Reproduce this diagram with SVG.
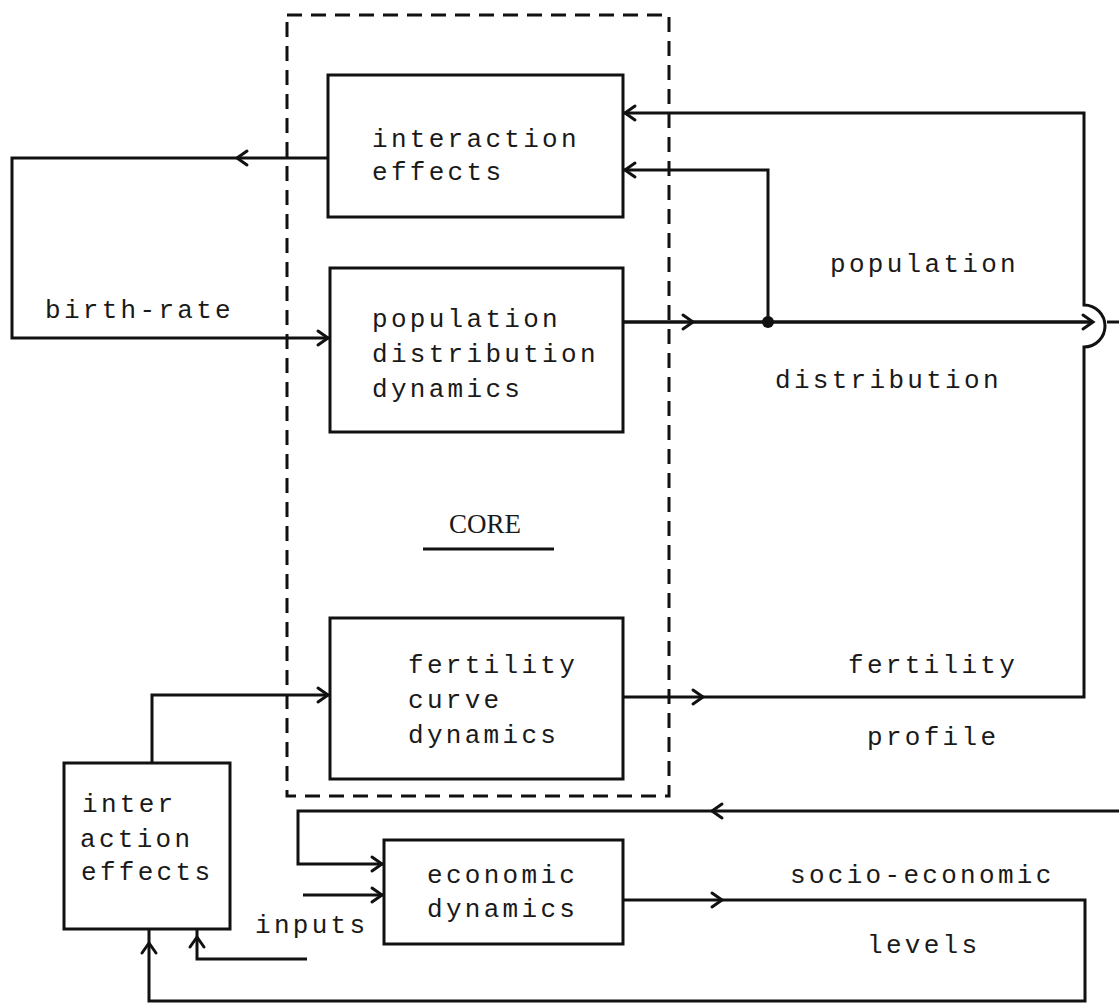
<svg xmlns="http://www.w3.org/2000/svg" width="1119" height="1003" viewBox="0 0 1119 1003">
<style>
.box{fill:#fff;stroke:#111;stroke-width:3}
.ln{fill:none;stroke:#111;stroke-width:3;stroke-linejoin:miter}
.t{font-family:"Liberation Mono","DejaVu Sans Mono",monospace;font-size:26px;letter-spacing:3.3px;fill:#1a1a1a}
.core{font-family:"Liberation Serif","DejaVu Serif",serif;font-size:27px;fill:#1a1a1a}
.dash{fill:none;stroke:#111;stroke-width:3;stroke-dasharray:15 9}
</style>
<defs>
<path id="chev" d="M -10 -7 L 0 0 L -10 7" fill="none" stroke="#111" stroke-width="3" stroke-linecap="round" stroke-linejoin="miter"/>
</defs>
<rect id="core-boundary" class="dash" x="287" y="15" width="382" height="781"/>
<g id="core-label">
<text class="core" x="485" y="533" text-anchor="middle">CORE</text>
<line x1="423" y1="549" x2="554" y2="549" stroke="#111" stroke-width="3"/>
</g>
<g id="connectors">
<path class="ln" d="M 623 697 H 1084 V 347 A 21 21 0 0 0 1084 305 V 113 H 623"/>
<path class="ln" style="stroke-width:3.5" d="M 623 322 H 1093"/>
<path class="ln" d="M 1107 322 H 1119"/>
<path class="ln" d="M 768 322 V 170 H 623"/>
<circle cx="768" cy="322" r="6" fill="#111"/>
<path class="ln" d="M 328 158 H 12 V 338 H 330"/>
<path class="ln" d="M 152 763 V 695 H 330"/>
<path class="ln" d="M 1119 811 H 298 V 864 H 384"/>
<path class="ln" d="M 303 895 H 384"/>
<path class="ln" d="M 623 900 H 1085 V 1001 H 149 V 929"/>
<path class="ln" d="M 307 959 H 197 V 929"/>
<use href="#chev" transform="translate(703 697)"/>
<use href="#chev" transform="translate(625 113) rotate(180)"/>
<use href="#chev" transform="translate(693 322)"/>
<use href="#chev" transform="translate(1093 322)"/>
<use href="#chev" transform="translate(625 170) rotate(180)"/>
<use href="#chev" transform="translate(237 158) rotate(180)"/>
<use href="#chev" transform="translate(328 338)"/>
<use href="#chev" transform="translate(328 695)"/>
<use href="#chev" transform="translate(712 811) rotate(180)"/>
<use href="#chev" transform="translate(382 864)"/>
<use href="#chev" transform="translate(382 895)"/>
<use href="#chev" transform="translate(722 900)"/>
<use href="#chev" transform="translate(149 943) rotate(-90)"/>
<use href="#chev" transform="translate(197 937) rotate(-90)"/>
</g>
<g id="interaction-effects">
<rect class="box" x="328" y="75" width="295" height="142"/>
<text class="t" x="372" y="147">interaction</text>
<text class="t" x="372" y="180">effects</text>
</g>
<g id="population-distribution-dynamics">
<rect class="box" x="330" y="268" width="293" height="164"/>
<text class="t" x="372" y="327">population</text>
<text class="t" x="372" y="362">distribution</text>
<text class="t" x="372" y="397">dynamics</text>
</g>
<g id="fertility-curve-dynamics">
<rect class="box" x="330" y="618" width="293" height="161"/>
<text class="t" x="408" y="673">fertility</text>
<text class="t" x="408" y="708">curve</text>
<text class="t" x="408" y="743">dynamics</text>
</g>
<g id="inter-action-effects">
<rect class="box" x="64" y="763" width="166" height="166"/>
<text class="t" x="82" y="812">inter</text>
<text class="t" x="80" y="847">action</text>
<text class="t" x="81" y="880">effects</text>
</g>
<g id="economic-dynamics">
<rect class="box" x="384" y="840" width="239" height="104"/>
<text class="t" x="427" y="883">economic</text>
<text class="t" x="427" y="917">dynamics</text>
</g>
<g id="labels">
<text class="t" x="45" y="318">birth-rate</text>
<text class="t" x="830" y="272">population</text>
<text class="t" x="775" y="388">distribution</text>
<text class="t" x="848" y="673">fertility</text>
<text class="t" x="867" y="745">profile</text>
<text class="t" x="790" y="883">socio-economic</text>
<text class="t" x="867" y="953">levels</text>
<text class="t" x="255" y="933">inputs</text>
</g>
</svg>
